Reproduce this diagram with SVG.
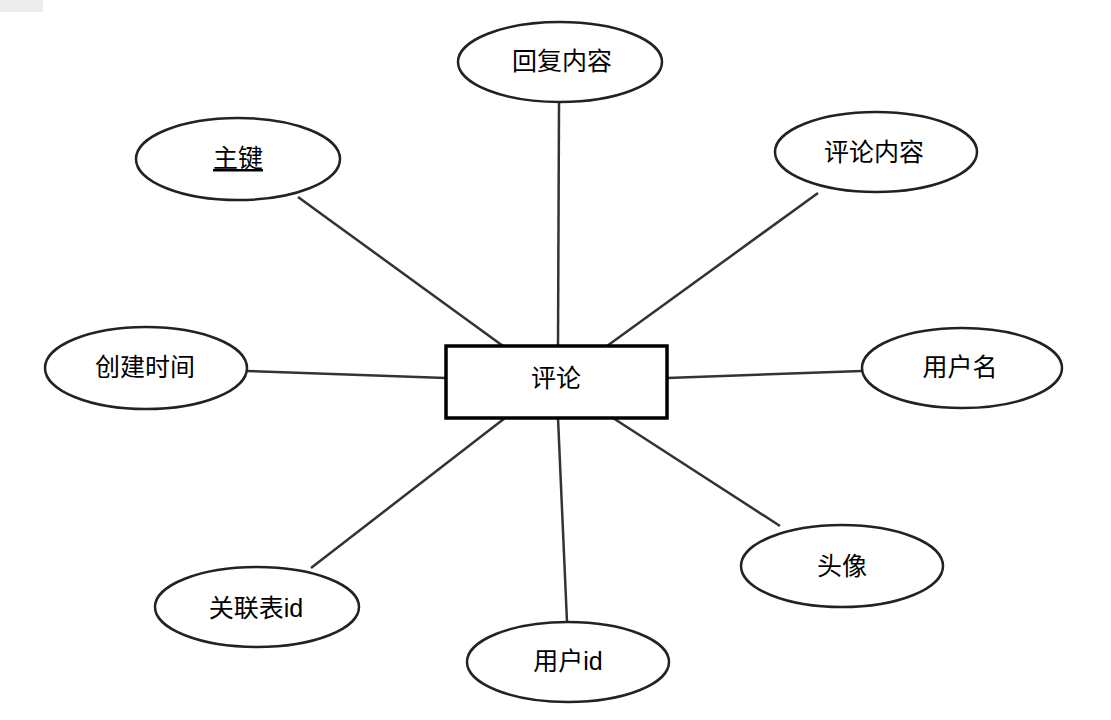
<svg xmlns="http://www.w3.org/2000/svg" width="1111" height="720" viewBox="0 0 1111 720">
<style>
.attr{fill:#fff;stroke:#222;stroke-width:2.5}
.ent{fill:#fff;stroke:#000;stroke-width:3.5}
.lbl{font-family:"Liberation Sans","Noto Sans CJK SC",sans-serif;font-size:25px;fill:#000;text-anchor:middle}
.conn line{stroke:#333;stroke-width:2.5}
</style>
<rect width="1111" height="720" fill="#fff"/>
<rect x="0" y="0" width="43" height="12" fill="#ececec"/>
<g class="conn" id="connectors">
<line x1="298" y1="197" x2="503" y2="346"/>
<line x1="559" y1="103" x2="558" y2="346"/>
<line x1="818" y1="193" x2="607" y2="346"/>
<line x1="247" y1="371" x2="446" y2="378"/>
<line x1="862" y1="371" x2="667" y2="378"/>
<line x1="780" y1="526" x2="613" y2="418"/>
<line x1="567" y1="622" x2="558" y2="418"/>
<line x1="311" y1="568" x2="505" y2="418"/>
</g>
<g id="n-comment"><rect class="ent" x="446" y="346" width="221" height="72"/><text class="lbl" x="556" y="387">评论</text></g>
<g id="n-reply"><ellipse class="attr" cx="560" cy="62" rx="102" ry="40"/><text class="lbl" x="562" y="70">回复内容</text></g>
<g id="n-pk"><ellipse class="attr" cx="238" cy="159" rx="102" ry="41"/><text class="lbl" x="238" y="167" text-decoration="underline">主键</text></g>
<g id="n-content"><ellipse class="attr" cx="876" cy="152" rx="101" ry="40"/><text class="lbl" x="874" y="161">评论内容</text></g>
<g id="n-time"><ellipse class="attr" cx="146" cy="368" rx="101" ry="41"/><text class="lbl" x="145" y="376">创建时间</text></g>
<g id="n-username"><ellipse class="attr" cx="962" cy="368" rx="100" ry="40"/><text class="lbl" x="960" y="376">用户名</text></g>
<g id="n-avatar"><ellipse class="attr" cx="842" cy="566" rx="101" ry="41"/><text class="lbl" x="842" y="575">头像</text></g>
<g id="n-userid"><ellipse class="attr" cx="568" cy="662" rx="101" ry="40"/><text class="lbl" x="568" y="670">用户id</text></g>
<g id="n-relid"><ellipse class="attr" cx="257" cy="607" rx="102" ry="40"/><text class="lbl" x="256" y="617">关联表id</text></g>
</svg>
